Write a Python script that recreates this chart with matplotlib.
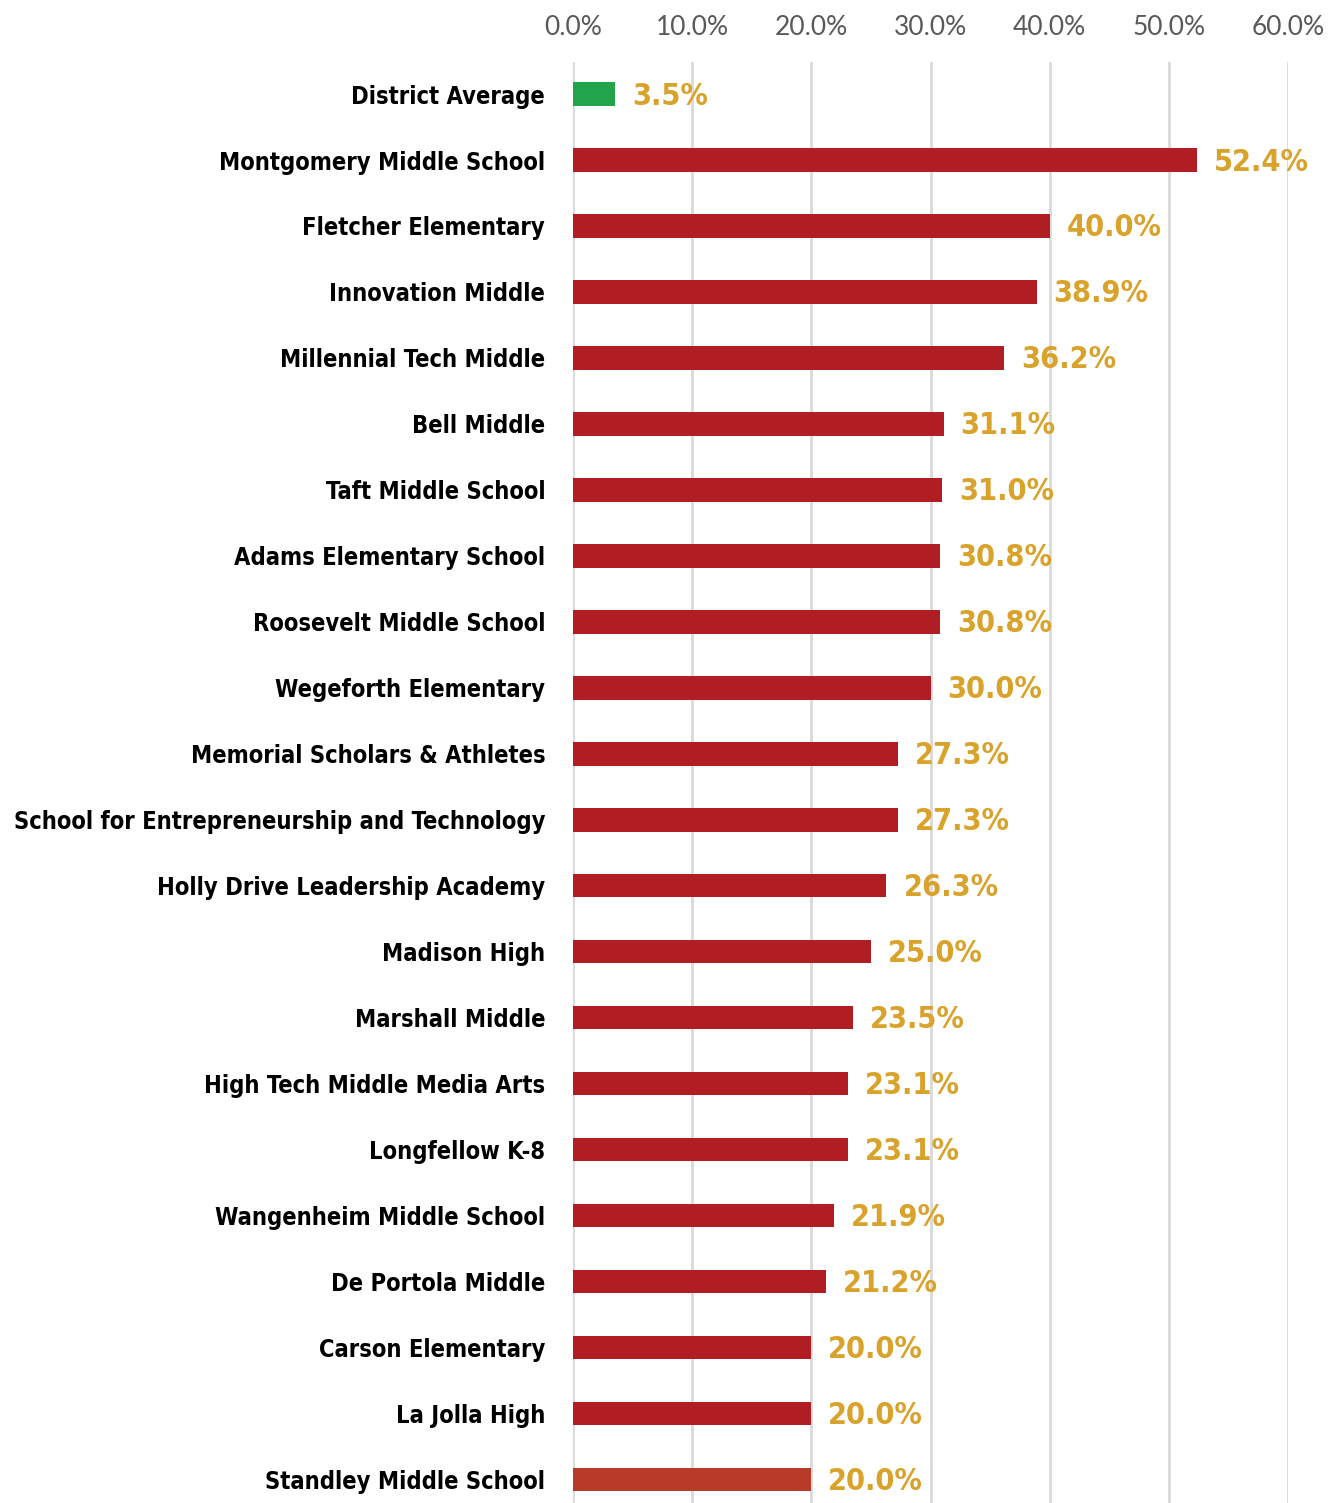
import matplotlib
matplotlib.use("Agg")
import matplotlib.pyplot as plt
from matplotlib import font_manager as fm
import numpy as np

schools = ["District Average", "Montgomery Middle School", "Fletcher Elementary",
           "Innovation Middle", "Millennial Tech Middle", "Bell Middle",
           "Taft Middle School", "Adams Elementary School", "Roosevelt Middle School",
           "Wegeforth Elementary", "Memorial Scholars & Athletes",
           "School for Entrepreneurship and Technology", "Holly Drive Leadership Academy",
           "Madison High", "Marshall Middle", "High Tech Middle Media Arts",
           "Longfellow K-8", "Wangenheim Middle School", "De Portola Middle",
           "Carson Elementary", "La Jolla High", "Standley Middle School"]
values = [3.5, 52.4, 40.0, 38.9, 36.2, 31.1, 31.0, 30.8, 30.8, 30.0, 27.3, 27.3,
          26.3, 25.0, 23.5, 23.1, 23.1, 21.9, 21.2, 20.0, 20.0, 20.0]
xticks = [0, 10, 20, 30, 40, 50, 60]
xtick_labels = ["0.0%", "10.0%", "20.0%", "30.0%", "40.0%", "50.0%", "60.0%"]

# ---- find a heavy condensed font ----
def _w(f):
    w = f.weight
    if isinstance(w, str):
        w = {"bold": 700, "heavy": 800, "black": 900, "normal": 400}.get(w, 400)
    return w

cands = []
for f in fm.fontManager.ttflist:
    nm = f.name + " " + str(f.fname)
    is_cond = ("Condensed" in nm or "Narrow" in nm or
               str(f.stretch) in ("condensed", "semi-condensed", "extra-condensed"))
    if not is_cond or f.style != "normal":
        continue
    w = _w(f)
    if w < 600:
        continue
    extra = ("Extra" in nm or "Semi" in nm or "Ultra" in nm)
    cands.append((extra, abs(w - 800), f.fname))
cands.sort()
if cands:
    bold_path = cands[0][2]
    def bfp(size):
        return fm.FontProperties(fname=bold_path, size=size)
else:
    def bfp(size):
        return fm.FontProperties(family="Lato", weight="heavy", size=size)

tickfont = "Lato"
colors = ["#22A44A"] + ["#B01E24"] * (len(values) - 2) + ["#B83A28"]

fig = plt.figure(figsize=(13.4, 15.03), dpi=100)
W, H = 1340, 1503
ax = fig.add_axes([573 / W, 0, (1288 - 573) / W, (1503 - 62) / H])

y = np.arange(len(values))
ax.barh(y, values, height=0.35, color=colors, zorder=3)
ax.set_xlim(0, 60)
ax.set_ylim(21.35, -0.485)

ax.set_xticks(xticks)
ax.set_xticklabels(xtick_labels, fontsize=19, color="#595959", family=tickfont)
ax.xaxis.tick_top()
ax.tick_params(axis="x", length=0, pad=16)
ax.grid(axis="x", color="#D9D9D9", linewidth=2, zorder=0)
ax.set_yticks(y)
ax.tick_params(axis="y", length=0, pad=20)
for s in ax.spines.values():
    s.set_visible(False)

renderer = fig.canvas.get_renderer()

def fit(text, target, start, lo=10):
    s = start
    while s > lo:
        t = fig.text(0, 0, text, fontproperties=bfp(s))
        w = t.get_window_extent(renderer).width
        t.remove()
        if w <= target:
            break
        s -= 0.5
    return s

lab_size = fit(max(schools, key=len), 535, 24)
val_size = fit("52.4%", 96, 26)

ax.set_yticklabels(schools, color="black")
for lab in ax.get_yticklabels():
    lab.set_fontproperties(bfp(lab_size))

for yi, v in zip(y, values):
    ax.annotate(f"{v:.1f}%", (v, yi), xytext=(17, -2), textcoords="offset pixels",
                va="center", ha="left", fontproperties=bfp(val_size),
                color="#D9A22B")

fig.savefig("out.png", dpi=100)
